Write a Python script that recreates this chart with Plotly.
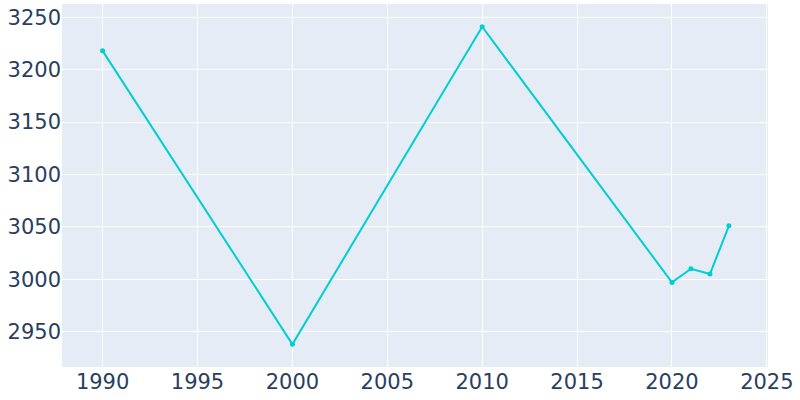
import plotly.graph_objects as go

years = [1990, 2000, 2010, 2020, 2021, 2022, 2023]
population = [3218, 2938, 3241, 2997, 3010, 3005, 3051]

fig = go.Figure()
fig.add_trace(go.Scatter(
    x=years, y=population, mode="lines+markers",
    line=dict(color="#00CED1", width=2),
    marker=dict(size=5, color="#00CED1"),
))
fig.update_layout(
    template="plotly",
    width=800, height=400,
    margin=dict(l=62, r=32, t=4, b=33),
    font=dict(family="DejaVu Sans", size=21, color="#2a3f5f"),
    showlegend=False,
    xaxis=dict(range=[1987.86, 2025.06], dtick=5, tick0=1990, automargin=False),
    yaxis=dict(range=[2916.3, 3262.7], dtick=50, automargin=False),
)
fig.write_html("out.html", config={"displayModeBar": False},
               post_script="document.body.style.margin='0';")
